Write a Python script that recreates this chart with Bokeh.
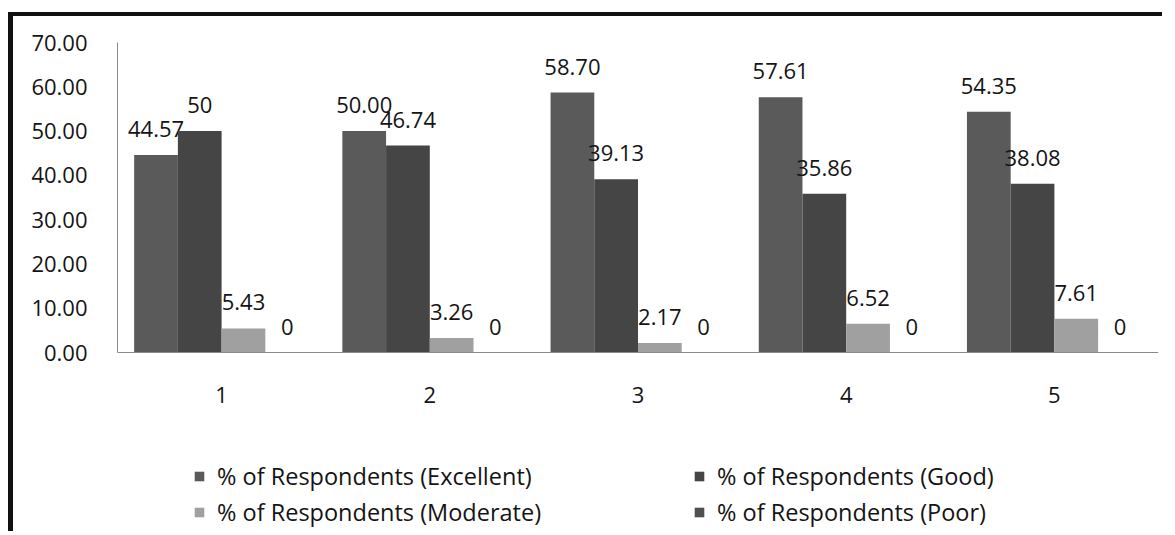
from bokeh.plotting import figure
from bokeh.models import (ColumnDataSource, FixedTicker, NumeralTickFormatter,
                          Legend, LegendItem, Range1d, Span)
from bokeh.transform import dodge
from bokeh.core.properties import value
from bokeh.embed import file_html
from bokeh.resources import INLINE

# ---- data ----
categories = [1, 2, 3, 4, 5]
tick_labels = ["1", "2", "3", "4", "5"]
excellent = [44.57, 50.00, 58.70, 57.61, 54.35]
good = [50, 46.74, 39.13, 35.86, 38.08]
moderate = [5.43, 3.26, 2.17, 6.52, 7.61]
poor = [0, 0, 0, 0, 0]
series_names = ["% of Respondents (Excellent)", "% of Respondents (Good)",
                "% of Respondents (Moderate)", "% of Respondents (Poor)"]
y_ticks = [0, 10, 20, 30, 40, 50, 60, 70]
y_max = 70

# ---- styling / layout ----
FONT = "Open Sans"
TXT = "#141414"
AXIS = "#8a8a8a"
colors = ["#5a5a5a", "#454545", "#a0a0a0", "#4f4f4f"]
BW = 0.21
offsets = [-1.5 * BW, -0.5 * BW, 0.5 * BW, 1.5 * BW]

W, H = 1154, 519
TOP = 26
PLOT_PX = 310                      # pixels from 0 to y_max
FRAME_H = H - TOP
y_lo = -y_max * (FRAME_H - PLOT_PX) / PLOT_PX

src = ColumnDataSource(dict(
    x=categories,
    excellent=excellent, good=good, moderate=moderate, poor=poor,
    excellent_lbl=["%.2f" % v for v in excellent],
    good_lbl=["%g" % v for v in good],
    moderate_lbl=["%g" % v for v in moderate],
    poor_lbl=["%g" % v for v in poor],
))
tick_src = ColumnDataSource(dict(x=categories, text=tick_labels))

p = figure(width=W, height=H, output_backend="svg", toolbar_location=None,
           x_range=Range1d(0.5, 5.5), y_range=Range1d(y_lo, y_max),
           min_border_left=104, min_border_right=9, min_border_top=TOP,
           min_border_bottom=0)
p.styles = {"border-left": "5px solid #111", "border-top": "4px solid #111",
            "margin-top": "12px", "margin-left": "8px"}
p.outline_line_color = None
p.xgrid.visible = False
p.ygrid.visible = False
p.background_fill_color = "white"
p.border_fill_color = "white"

p.xaxis.visible = False
yax = p.yaxis[0]
yax.bounds = (0, y_max)
yax.axis_line_color = AXIS
yax.major_tick_line_color = None
yax.minor_tick_line_color = None
yax.major_label_text_font = FONT
yax.major_label_text_font_size = "22px"
yax.major_label_text_color = TXT
yax.ticker = FixedTicker(ticks=y_ticks)
yax.formatter = NumeralTickFormatter(format="0.00")
yax.major_label_standoff = 24

# category axis line and labels
p.add_layout(Span(location=0, dimension="width", line_color=AXIS, line_width=1))
p.text(x="x", y=0, text="text", source=tick_src, text_align="center",
       text_baseline="middle", y_offset=42, text_font=value(FONT),
       text_font_size="22px", text_color=TXT)

keys = ["excellent", "good", "moderate", "poor"]
renderers = []
for k, off, col in zip(keys, offsets, colors):
    r = p.vbar(x=dodge("x", off, range=p.x_range), top=k, width=BW, source=src,
               fill_color=col, line_color=None)
    renderers.append(r)
    p.text(x=dodge("x", off, range=p.x_range), y=k, text=k + "_lbl", source=src,
           text_align="center", text_baseline="middle", y_offset=-26,
           text_font=value(FONT), text_font_size="22px", text_color=TXT)


def make_legend(idx, loc):
    leg = Legend(items=[LegendItem(label=series_names[i], renderers=[renderers[i]])
                        for i in idx],
                 location=loc, orientation="vertical",
                 glyph_width=12, glyph_height=12, label_standoff=12, spacing=4,
                 padding=0, margin=0, border_line_color=None,
                 background_fill_alpha=0, label_text_font=FONT,
                 label_text_font_size="23.5px", label_text_color=TXT)
    p.add_layout(leg, "center")


make_legend([0, 2], (76, 7))
make_legend([1, 3], (576, 7))

open("out.html", "w").write(file_html(p, INLINE))
